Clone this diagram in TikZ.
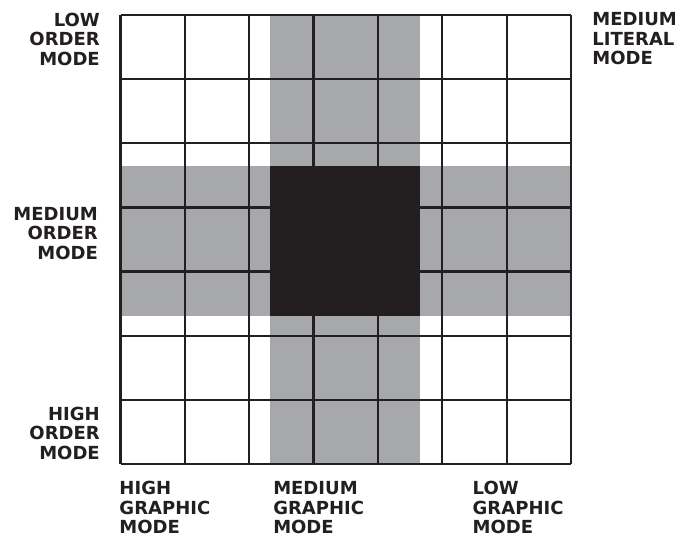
\documentclass[tikz,border=0pt]{standalone}
\usepackage{fontspec}
\setmainfont{DejaVu Sans}
\usetikzlibrary{positioning}
\definecolor{bandgray}{HTML}{A7A8AB}
\definecolor{inkblack}{HTML}{231F20}

\begin{document}
\begin{tikzpicture}[
    x=64.3pt, y=64.1pt,
    gridline/.style={draw=inkblack, line width=2.2pt},
    band/.style={fill=bandgray},
    core/.style={fill=inkblack},
    lbl/.style={font=\bfseries\fontsize{18}{19.5}\selectfont, inner sep=0pt, text=inkblack}
]
\useasboundingbox (-1.874,-1.139) rectangle (8.695,7.234);

% Bänder
\fill[band] (2.33,0) rectangle (4.65,7);
\fill[band] (0,2.31) rectangle (7,4.65);

% Raster
\foreach \i in {0,...,7} {
    \draw[gridline] (\i,0) -- (\i,7);
    \draw[gridline] (0,\i) -- (7,\i);
}
\fill[core] (2.33,2.31) rectangle (4.65,4.65);

% Beschriftungen links
\node (loworder) [lbl, anchor=north east, align=right] at (-0.32,7.04) {LOW\\ORDER\\MODE};
\node (medorder) [lbl, anchor=north east, align=right] at (-0.35,4.01) {MEDIUM\\ORDER\\MODE};
\node (highorder) [lbl, anchor=north east, align=right] at (-0.32,0.89) {HIGH\\ORDER\\MODE};

% Beschriftungen unten
\node (highgraph) [lbl, anchor=north west, align=left] at (-0.02,-0.27) {HIGH\\GRAPHIC\\MODE};
\node (medgraph) [lbl, anchor=north west, align=left] at (2.37,-0.27) {MEDIUM\\GRAPHIC\\MODE};
\node (lowgraph) [lbl, anchor=north west, align=left] at (5.47,-0.27) {LOW\\GRAPHIC\\MODE};

% rechts oben
\node (medliteral) [lbl, anchor=north west, align=left] at (7.33,7.04) {MEDIUM\\LITERAL\\MODE};

\end{tikzpicture}
\end{document}
